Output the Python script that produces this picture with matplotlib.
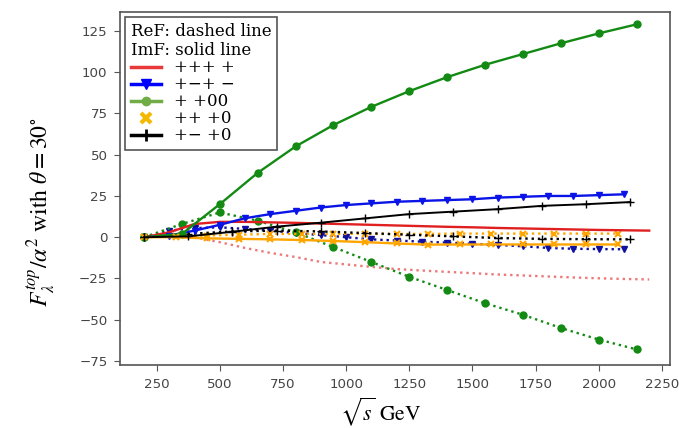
import matplotlib
matplotlib.use("Agg")
import matplotlib.pyplot as plt
from matplotlib.lines import Line2D

# ---- data ----
x_red = [200, 300, 400, 500, 600, 700, 800, 900, 1000, 1100, 1200, 1300, 1400,
         1500, 1600, 1700, 1800, 1900, 2000, 2100, 2200]
red_im = [0, 3, 8, 9.3, 9.3, 9.0, 8.7, 8.3, 7.9, 7.5, 7.1, 6.7, 6.3,
          6.0, 5.6, 5.3, 5.0, 4.7, 4.4, 4.2, 4.0]
red_re = [0, 1, 0, -3, -6.5, -9.5, -12, -15, -16.5, -18, -19.3, -20.2, -21,
          -21.8, -22.6, -23.2, -23.8, -24.4, -24.9, -25.3, -25.6]

x_blue = [200, 300, 400, 500, 600, 700, 800, 900, 1000, 1100, 1200, 1300, 1400,
          1500, 1600, 1700, 1800, 1900, 2000, 2100]
blue_im = [0, 1, 4, 7.5, 11.5, 14, 16, 18, 19.5, 20.5, 21.5, 22, 22.5,
           23, 24, 24.5, 25, 25, 25.5, 26]
blue_re = [0, 4, 5.5, 6, 5, 4, 2.5, 1.3, 0, -1.3, -2, -2.7, -3.3,
           -4, -4.7, -5.5, -6.5, -7, -7.2, -7.3]

x_green = [200, 350, 500, 650, 800, 950, 1100, 1250, 1400, 1550, 1700, 1850, 2000, 2150]
green_im = [0, 2, 20, 39, 55, 68, 79, 88.5, 97, 104.5, 111, 117.5, 123.5, 129]
green_re = [0, 8, 15, 10, 3, -6, -15, -24, -32, -40, -47, -55, -62, -68]

x_orange = [200, 325, 450, 575, 700, 825, 950, 1075, 1200, 1325, 1450, 1575,
            1700, 1825, 1950, 2075]
orange_im = [0, 0, -0.7, -1, -1.3, -1.7, -2.3, -3, -3.8, -4.5, -4.4, -4.4,
             -4.4, -4.4, -4.4, -4.4]
orange_re = [0, 0.5, 1, 1.5, 2, 2, 2, 2, 2, 2, 2.2, 2.2, 2.2, 2.2, 2.2, 2.2]

x_black = [200, 375, 550, 725, 900, 1075, 1250, 1425, 1600, 1775, 1950, 2125]
black_im = [0, 0.5, 3.3, 6.4, 8.8, 11.4, 14, 15.5, 17, 19, 20, 21.3]
black_re = [0, 2, 3.5, 4, 3.5, 2.5, 1.5, 0.5, -0.5, -1, -1.2, -1.3]

legend_labels = ["+++ +", "+\u2212+ \u2212", "+ +00", "++ +0", "+\u2212 +0"]
legend_title = "ReF: dashed line\nImF: solid line"

xticks = [250, 500, 750, 1000, 1250, 1500, 1750, 2000, 2250]
yticks = [-75, -50, -25, 0, 25, 50, 75, 100, 125]

# ---- styles ----
c_red = "#e02020"
c_blue = "#0a14e6"
c_green = "#138a13"
c_orange = "#ffa500"
c_black = "black"

plt.rcParams["mathtext.fontset"] = "stix"

fig = plt.figure(figsize=(6.79, 4.28), dpi=100)
ax = fig.add_axes([0.1767, 0.147, 0.8103, 0.825])

lw = 1.7
ms = 5
# dotted (Re)
ax.plot(x_red, red_re, ls=":", color=c_red, alpha=0.6, lw=lw)
ax.plot(x_blue, blue_re, ls=":", color="#1010a0", lw=lw, marker="v", ms=ms)
ax.plot(x_green, green_re, ls=":", color=c_green, lw=lw, marker="o", ms=ms)
ax.plot(x_orange, orange_re, ls=":", color=c_orange, lw=lw, marker="x", ms=ms, mew=1.5)
ax.plot(x_black, black_re, ls=":", color=c_black, lw=lw, marker="+", ms=ms + 1)
# solid (Im)
ax.plot(x_red, red_im, ls="-", color=c_red, lw=lw)
ax.plot(x_blue, blue_im, ls="-", color=c_blue, lw=lw, marker="v", ms=ms)
ax.plot(x_green, green_im, ls="-", color=c_green, lw=lw, marker="o", ms=ms)
ax.plot(x_orange, orange_im, ls="-", color=c_orange, lw=lw, marker="x", ms=ms, mew=1.5)
ax.plot(x_black, black_im, ls="-", color=c_black, lw=lw - 0.3, marker="+", ms=ms + 1)

ax.set_xlim(105, 2283)
ax.set_ylim(-77.5, 136.5)
ax.set_xticks(xticks)
ax.set_yticks(yticks)
ax.tick_params(labelsize=9.6, labelcolor="#444444", color="#555555", length=4, pad=5)
for s in ax.spines.values():
    s.set_color("#555555")
    s.set_linewidth(1.2)

ax.set_xlabel(r"$\sqrt{s}$ GeV", fontsize=15.5, family="STIXGeneral")
ax.xaxis.set_label_coords(0.473, -0.085)
ax.set_ylabel(r"$F_{\lambda}^{top}/\alpha^{2}$ with $\theta = 30^{\circ}$",
              fontsize=17, family="STIXGeneral")
ax.yaxis.set_label_coords(-0.114, 0.433)

handles = [
    Line2D([], [], color="#e8383a", lw=2.5),
    Line2D([], [], color="blue", lw=2.5, marker="v", ms=7),
    Line2D([], [], color="#70ad47", lw=2.5, marker="o", ms=6),
    Line2D([], [], color="#f5b800", lw=0, marker="x", ms=7, mew=3),
    Line2D([], [], color="black", lw=2.5, marker="+", ms=8, mew=2),
]
leg = ax.legend(handles, legend_labels, title=legend_title, loc="upper left",
                alignment="left", prop={"family": ["DejaVu Serif"], "size": 12},
                title_fontproperties={"family": ["DejaVu Serif"], "size": 12},
                labelspacing=0.0, borderaxespad=0.3, borderpad=0.35,
                handlelength=1.8, handletextpad=0.8, fancybox=False,
                framealpha=1, edgecolor="#555555")
leg.get_frame().set_linewidth(1.2)

fig.savefig("out.png", dpi=100)
